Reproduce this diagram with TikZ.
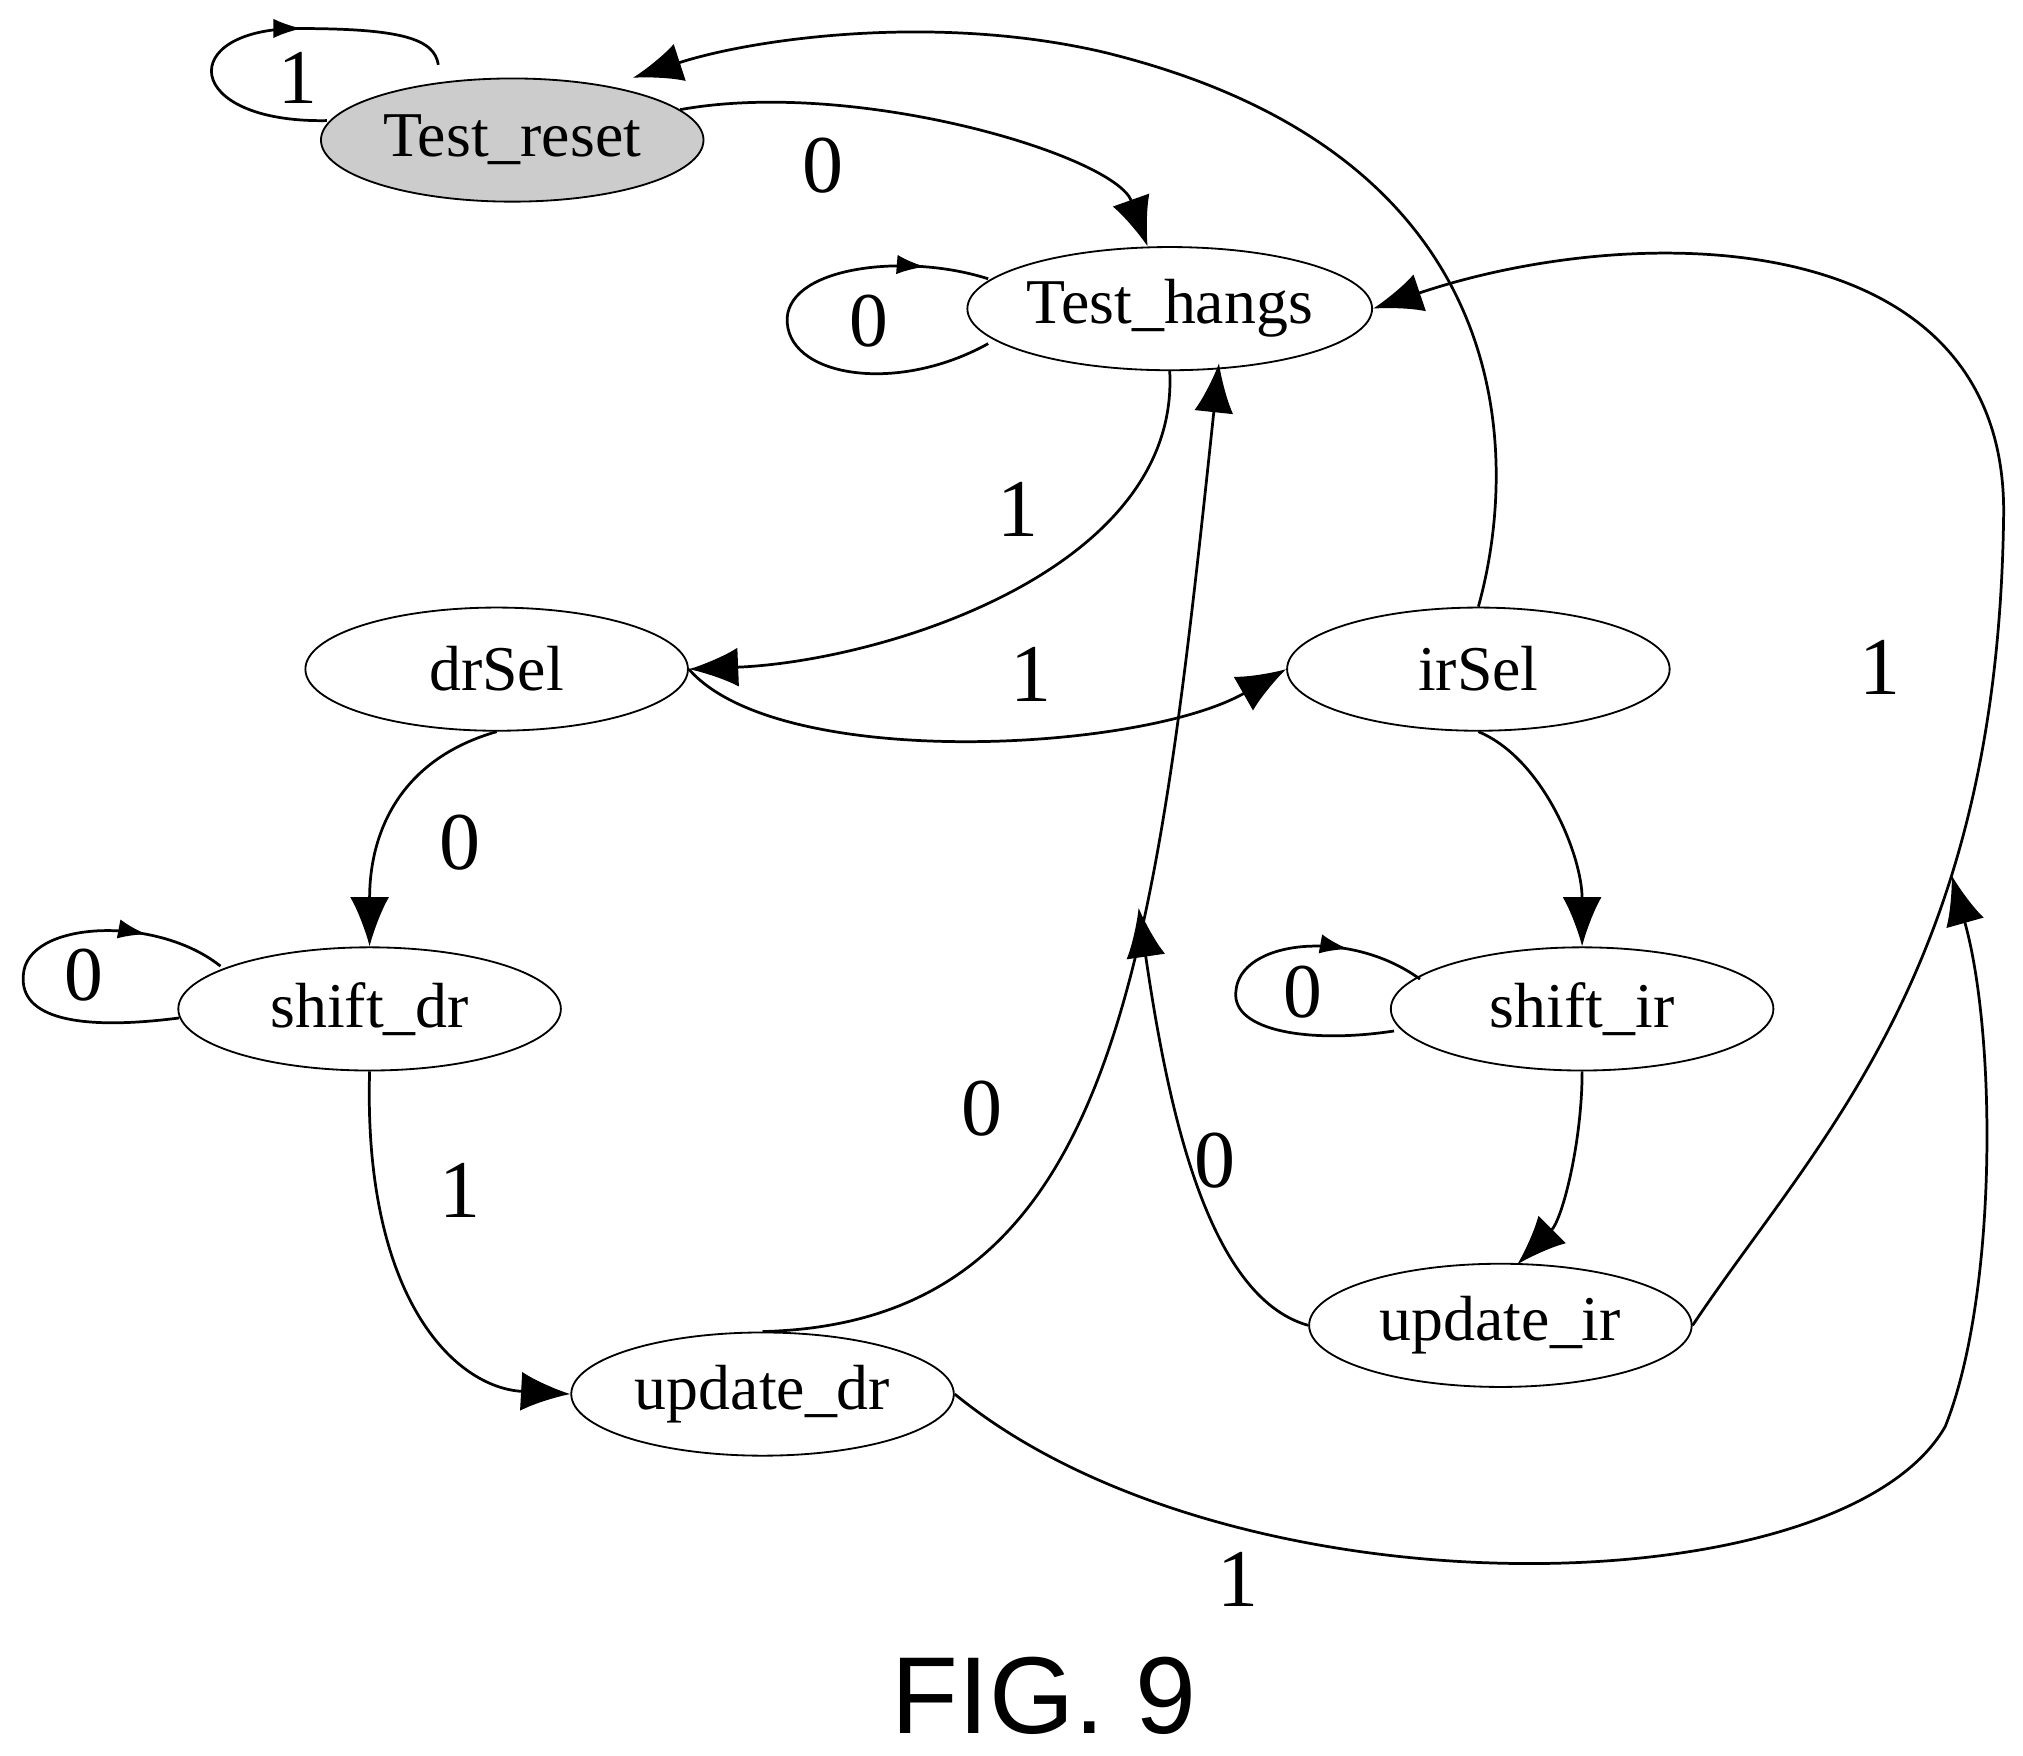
\documentclass[tikz,border=0pt]{standalone}
\usepackage{fontspec}
\setmainfont{Liberation Serif}
\newfontfamily\figfont{Liberation Sans}
\usetikzlibrary{positioning}
\usetikzlibrary{arrows.meta,shapes.geometric}
\usetikzlibrary{decorations.markings}
\usetikzlibrary{calc}

\begin{document}
\begin{tikzpicture}[
  state/.style={ellipse,draw=black,minimum width=2.95cm,minimum height=0.95cm,inner sep=0pt,font=\fontsize{14}{16}\selectfont},
  loopst/.style={ellipse,minimum width=1.6cm,minimum height=0.7cm,inner sep=0pt,font=\fontsize{17}{19}\selectfont},
  lab/.style={font=\fontsize{18}{20}\selectfont},
  tr/.style={-{Latex[length=0.38cm,width=0.3cm]},line width=0.6pt},
  midarrow/.style={decoration={markings,mark=at position #1 with {\arrow{Latex[length=0.22cm,width=0.15cm]}}},postaction={decorate},line width=0.6pt},
  midarrow/.default=0.62
]
\useasboundingbox (0,0) rectangle (15.6,-13.54);

\node[state,fill=gray!40](reset) at (3.95,-1.08){Test\_reset};
\node[state](hangs) at (9.02,-2.38){Test\_hangs};
\node[state](drsel) at (3.83,-5.16){drSel};
\node[state](irsel) at (11.40,-5.16){irSel};
\node[state](shiftdr) at (2.85,-7.78){shift\_dr};
\node[state](shiftir) at (12.20,-7.78){shift\_ir};
\node[state](updir) at (11.57,-10.22){update\_ir};
\node[state](upddr) at (5.88,-10.75){update\_dr};

% self loops
\node[loopst](lreset) at (2.30,-0.60){1};
\node[loopst](lhangs) at (6.70,-2.48){0};
\node[loopst](lshiftdr) at (0.65,-7.52){0};
\node[loopst](lshiftir) at (10.05,-7.65){0};
\draw[midarrow] (2.52,-0.93) .. controls (1.40,-0.95) and (1.35,-0.22) .. (2.30,-0.22) .. controls (3.10,-0.22) and (3.35,-0.30) .. (3.38,-0.50);
\draw[midarrow=0.86] (7.62,-2.65) .. controls (6.90,-3.05) and (6.05,-2.90) .. (6.07,-2.45) .. controls (6.10,-2.05) and (7.00,-1.95) .. (7.62,-2.15);
\draw[midarrow=0.8] (1.38,-7.85) .. controls (0.60,-7.95) and (0.15,-7.85) .. (0.18,-7.52) .. controls (0.20,-7.10) and (1.20,-7.05) .. (1.70,-7.45);
\draw[midarrow=0.8] (10.75,-7.95) .. controls (10.10,-8.05) and (9.50,-7.95) .. (9.53,-7.65) .. controls (9.55,-7.25) and (10.40,-7.15) .. (10.95,-7.55);

\coordinate(jdr) at (8.78,-7.00);
\coordinate(jir) at (15.05,-6.75);

\draw[tr] (reset) .. controls (6.60,-0.60) and (8.60,-1.20) .. (hangs);
\draw[tr] (hangs.south) .. controls (9.10,-4.40) and (6.80,-5.10) .. (drsel.east);
\draw[tr] (drsel.east) .. controls (6.00,-5.95) and (8.80,-5.80) .. (irsel.west);
\draw[tr] (irsel.north) .. controls (11.70,-3.60) and (11.80,-1.20) .. (8.50,-0.40) .. controls (7.20,-0.10) and (5.80,-0.30) .. (4.88,-0.60);
\draw[tr] (drsel.south) .. controls (3.10,-5.85) and (2.85,-6.40) .. (shiftdr.north);
\draw[tr] (irsel.south) .. controls (11.90,-5.85) and (12.20,-6.60) .. (shiftir.north);
\draw[tr] (shiftdr.south) .. controls (2.80,-10.00) and (3.50,-10.70) .. (upddr.west);
\draw[tr] (upddr.north) .. controls (8.60,-10.20) and (8.90,-7.50) .. (9.40,-2.80);
\draw[tr] (shiftir.south) .. controls (12.20,-8.80) and (12.05,-9.40) .. (11.70,-9.75);
\draw[tr] (updir.west) .. controls (9.30,-10.00) and (9.00,-8.50) .. (jdr);
\draw[tr] (updir.east) .. controls (14.00,-8.80) and (15.40,-7.50) .. (15.45,-4.00) .. controls (15.50,-1.70) and (12.60,-1.70) .. (hangs.east);
\draw[tr] (upddr.east) .. controls (9.50,-12.50) and (14.20,-12.40) .. (15.00,-11.00) .. controls (15.40,-10.00) and (15.40,-8.00) .. (jir);

\node[lab] at (6.35,-1.28){0};
\node[lab] at (7.85,-3.93){1};
\node[lab] at (7.95,-5.20){1};
\node[lab] at (3.55,-6.50){0};
\node[lab] at (3.55,-9.18){1};
\node[lab] at (7.57,-8.55){0};
\node[lab] at (9.37,-8.95){0};
\node[lab] at (14.50,-5.15){1};
\node[lab] at (9.55,-12.18){1};

\node[font=\figfont\fontsize{24}{28}\selectfont](fig) at (8.05,-13.08){FIG. 9};
\end{tikzpicture}
\end{document}
